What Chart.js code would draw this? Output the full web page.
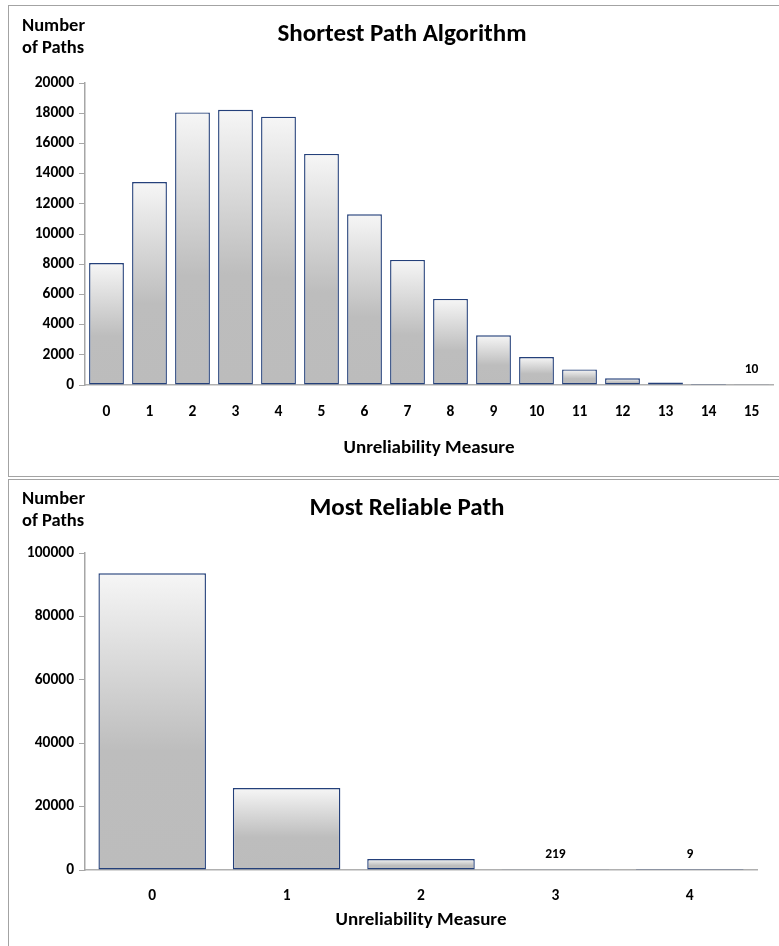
<!DOCTYPE html>
<html>
<head>
<meta charset="utf-8">
<script src="https://cdn.jsdelivr.net/npm/chart.js@4/dist/chart.umd.min.js"></script>
<style>
  html, body { margin: 0; padding: 0; background: #fff; overflow: hidden; width: 779px; height: 946px; }
  .frame { position: absolute; border: 1.5px solid #a3a3a3; box-sizing: border-box; }
  canvas { position: absolute; left: 0; }
</style>
</head>
<body>
<div class="frame" style="left:8px; top:5px; width:820px; height:472px;"></div>
<div class="frame" style="left:8px; top:479px; width:820px; height:520px;"></div>
<canvas id="shortest" width="779" height="476" style="top:0px"></canvas>
<canvas id="reliable" width="779" height="467" style="top:479px"></canvas>
<script>
// Unreliability measure categories and path counts
const shortestCategories = ['0','1','2','3','4','5','6','7','8','9','10','11','12','13','14','15'];
const shortestCounts = [8080, 13440, 18050, 18230, 17770, 15300, 11300, 8280, 5700, 3290, 1850, 1030, 440, 170, 60, 10];
const shortestTicks = [0, 2000, 4000, 6000, 8000, 10000, 12000, 14000, 16000, 18000, 20000];
const shortestLabelled = [15];

const reliableCategories = ['0','1','2','3','4'];
const reliableCounts = [93600, 25870, 3470, 219, 9];
const reliableTicks = [0, 20000, 40000, 60000, 80000, 100000];
const reliableLabelled = [3, 4];

const FONT = 'Carlito, Lato, "Open Sans", sans-serif';

// Light-to-grey vertical fill, computed per bar from its own height
function barFill(ctx) {
  const chart = ctx.chart;
  if (!chart.chartArea || ctx.type !== 'data') return '#cfcfcf';
  const y = chart.scales.y;
  const top = y.getPixelForValue(ctx.raw);
  let base = y.getPixelForValue(0);
  if (base - top < 1) base = top + 1;
  const g = chart.ctx.createLinearGradient(0, top, 0, base);
  g.addColorStop(0, '#f6f6f6');
  g.addColorStop(0.6, '#bdbdbd');
  g.addColorStop(1, '#bcbcbc');
  return g;
}

// Titles, axis captions and selected value labels
const captions = {
  id: 'captions',
  afterDraw(chart, args, opts) {
    const c = chart.ctx;
    const area = chart.chartArea;
    c.save();
    c.fillStyle = '#000';
    c.textBaseline = 'middle';
    c.textAlign = 'center';
    c.font = 'bold ' + opts.titleSize + 'px ' + FONT;
    c.fillText(opts.title, opts.titleX, opts.titleY);
    c.textAlign = 'left';
    c.font = 'bold 18.5px ' + FONT;
    c.fillText('Number', 22, opts.yCapY);
    c.fillText('of Paths', 22, opts.yCapY + 22.5);
    c.textAlign = 'center';
    c.font = 'bold 19px ' + FONT;
    c.fillText('Unreliability Measure', (area.left + area.right) / 2, opts.xCapY);
    c.font = 'bold 13.5px ' + FONT;
    const meta = chart.getDatasetMeta(0);
    const data = chart.data.datasets[0].data;
    opts.labelled.forEach(i => {
      const el = meta.data[i];
      c.fillText(String(data[i]), el.x, el.y - 15);
    });
    c.restore();
  }
};

function makeChart(id, categories, counts, ticks, labelled, cfg) {
  return new Chart(document.getElementById(id), {
    type: 'bar',
    data: {
      labels: categories,
      datasets: [{
        data: counts,
        backgroundColor: barFill,
        borderColor: '#24407a',
        borderWidth: 1.4,
        borderSkipped: false,
        barPercentage: cfg.barPct,
        categoryPercentage: 1
      }]
    },
    options: {
      responsive: false,
      animation: false,
      events: [],
      layout: { padding: { top: cfg.top, right: cfg.right, left: 0, bottom: 0 } },
      plugins: {
        legend: { display: false },
        tooltip: { enabled: false },
        captions: Object.assign({ labelled }, cfg.captions)
      },
      scales: {
        x: {
          grid: { display: false, drawTicks: false },
          border: { display: true, color: '#b0b0b0', width: 1.5 },
          ticks: { color: '#000', font: { family: FONT, size: 15.5, weight: 'bold' }, padding: cfg.xPad, maxRotation: 0 },
          afterFit(s) { s.height = cfg.xHeight; }
        },
        y: {
          min: 0,
          max: ticks[ticks.length - 1],
          afterBuildTicks(s) { s.ticks = ticks.map(v => ({ value: v })); },
          grid: { drawOnChartArea: false, drawTicks: true, tickLength: 6, color: '#a6a6a6', lineWidth: 1 },
          border: { display: true, color: '#a6a6a6', width: 1.5 },
          ticks: {
            color: '#000',
            font: { family: FONT, size: 15.5, weight: 'bold' },
            padding: 5,
            callback: v => String(v)
          },
          afterFit(s) { s.width = 85; }
        }
      }
    },
    plugins: [captions]
  });
}

makeChart('shortest', shortestCategories, shortestCounts, shortestTicks, shortestLabelled, {
  barPct: 0.81, top: 83, right: 6, xPad: 18, xHeight: 91,
  captions: { title: 'Shortest Path Algorithm', titleSize: 25, titleX: 402, titleY: 35, yCapY: 26, xCapY: 448 }
});

makeChart('reliable', reliableCategories, reliableCounts, reliableTicks, reliableLabelled, {
  barPct: 0.8, top: 74, right: 22, xPad: 17, xHeight: 76,
  captions: { title: 'Most Reliable Path', titleSize: 25, titleX: 407, titleY: 30, yCapY: 20, xCapY: 441 }
});
</script>
</body>
</html>
